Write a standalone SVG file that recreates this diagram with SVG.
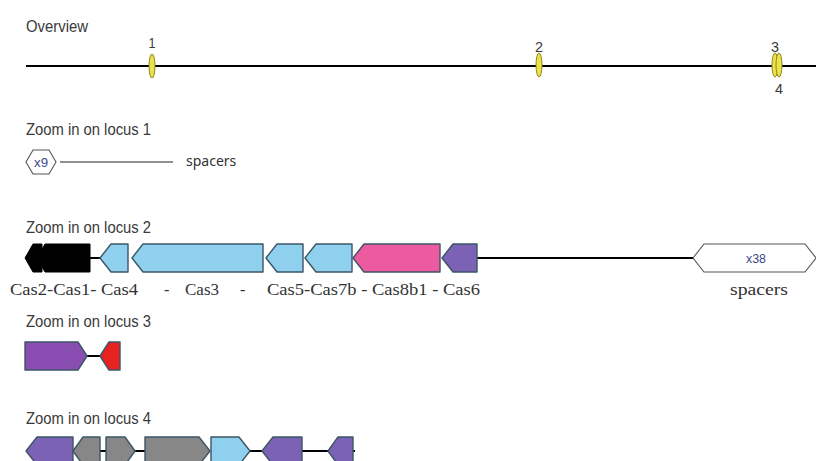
<svg xmlns="http://www.w3.org/2000/svg" width="816" height="461" viewBox="0 0 816 461">
  <style>
    .title { font-family: "Liberation Sans", Arial, sans-serif; font-size: 16px; fill: #3a3a3a; }
    .num { font-family: "Liberation Sans", Arial, sans-serif; font-size: 15px; fill: #3a3a3a; text-anchor: middle; }
    .lab { font-family: "Liberation Serif", "Times New Roman", serif; font-size: 16px; fill: #333; }
    .rep { font-family: "Liberation Sans", Arial, sans-serif; font-size: 13px; fill: #3b4a8c; text-anchor: middle; }
    .bb { stroke: #000; stroke-width: 2; fill: none; }
    .thin { stroke: #222; stroke-width: 1.2; fill: none; }
    .locus { fill: #ece24a; stroke: #8c8620; stroke-width: 1; }
    .g { stroke: #3d5566; stroke-width: 1.4; stroke-linejoin: round; }
    .blue { fill: #8fd0ee; }
    .pink { fill: #ec5aa0; }
    .purple { fill: #7b62b4; }
    .violet { fill: #8a4db2; }
    .red { fill: #e8231f; }
    .grey { fill: #878787; }
    .black { fill: #000; stroke: #000; }
    .hex { fill: #fff; stroke: #555; stroke-width: 1.1; }
  </style>

  <!-- Overview track -->
  <g id="overview">
    <text class="title" x="26" y="32" textLength="62" lengthAdjust="spacingAndGlyphs">Overview</text>
    <line class="bb" x1="26" y1="66" x2="816" y2="66"/>
    <g id="locus-1">
      <ellipse class="locus" cx="152" cy="66" rx="3" ry="12"/>
      <text class="num" x="152" y="48" textLength="7" lengthAdjust="spacingAndGlyphs">1</text>
    </g>
    <g id="locus-2">
      <ellipse class="locus" cx="539" cy="65" rx="3" ry="12"/>
      <text class="num" x="539" y="52" textLength="8" lengthAdjust="spacingAndGlyphs">2</text>
    </g>
    <g id="locus-3">
      <ellipse class="locus" cx="775" cy="65" rx="3" ry="12"/>
      <text class="num" x="775" y="52" textLength="8" lengthAdjust="spacingAndGlyphs">3</text>
    </g>
    <g id="locus-4">
      <ellipse class="locus" cx="779" cy="65" rx="3" ry="12"/>
      <text class="num" x="779" y="94" textLength="8" lengthAdjust="spacingAndGlyphs">4</text>
    </g>
  </g>

  <!-- Locus 1 -->
  <g id="zoom-locus-1">
    <text class="title" x="26" y="135" textLength="125" lengthAdjust="spacingAndGlyphs">Zoom in on locus 1</text>
    <g id="l1-repeats">
      <polygon class="hex" points="26,162 33,150 49,150 56,162 49,174 33,174"/>
      <text class="rep" x="41" y="167" textLength="14" lengthAdjust="spacingAndGlyphs">x9</text>
    </g>
    <line class="thin" x1="60" y1="162" x2="173" y2="162"/>
    <text x="186" y="166" style="font-family:'Noto Sans','DejaVu Sans',sans-serif;font-size:14px;fill:#333">spacers</text>
  </g>

  <!-- Locus 2 -->
  <g id="zoom-locus-2">
    <text class="title" x="26" y="233" textLength="125" lengthAdjust="spacingAndGlyphs">Zoom in on locus 2</text>
    <g id="l2-connectors">
      <line class="bb" x1="88" y1="258" x2="102" y2="258"/>
      <line class="bb" x1="476" y1="258" x2="694" y2="258"/>
    </g>
    <g id="cas2"><path class="black" d="M42,244 L33,244 L25,258 L33,272 L42,272 Z"/></g>
    <g id="cas1"><path class="black" d="M90,244 L45,244 L37,258 L45,272 L90,272 Z"/></g>
    <g id="cas4"><path class="g blue" d="M128,244 L111,244 L100,258 L111,272 L128,272 Z"/></g>
    <g id="cas3"><path class="g blue" d="M263,244 L143,244 L132,258 L143,272 L263,272 Z"/></g>
    <g id="cas5"><path class="g blue" d="M303,244 L277,244 L266,258 L277,272 L303,272 Z"/></g>
    <g id="cas7b"><path class="g blue" d="M352,244 L316,244 L305,258 L316,272 L352,272 Z"/></g>
    <g id="cas8b1"><path class="g pink" d="M440,244 L364,244 L353,258 L364,272 L440,272 Z"/></g>
    <g id="cas6"><path class="g purple" d="M477,244 L453,244 L442,258 L453,272 L477,272 Z"/></g>
    <g id="l2-repeats">
      <polygon class="hex" points="693,258 704,244 805,244 816,258 805,272 704,272"/>
      <text class="rep" x="756" y="263" textLength="20" lengthAdjust="spacingAndGlyphs">x38</text>
    </g>
    <text class="lab" x="10" y="295" textLength="128" lengthAdjust="spacingAndGlyphs">Cas2-Cas1- Cas4</text>
    <text class="lab" x="164" y="295">-</text>
    <text class="lab" x="185" y="295" textLength="34" lengthAdjust="spacingAndGlyphs">Cas3</text>
    <text class="lab" x="240" y="295">-</text>
    <text class="lab" x="267" y="295" textLength="213" lengthAdjust="spacingAndGlyphs">Cas5-Cas7b - Cas8b1 - Cas6</text>
    <text class="lab" x="730" y="295" textLength="58" lengthAdjust="spacingAndGlyphs">spacers</text>
  </g>

  <!-- Locus 3 -->
  <g id="zoom-locus-3">
    <text class="title" x="26" y="327" textLength="125" lengthAdjust="spacingAndGlyphs">Zoom in on locus 3</text>
    <line class="bb" x1="86" y1="356" x2="101" y2="356"/>
    <g id="l3-gene-a"><path class="g violet" d="M25,342 L78,342 L87,356 L78,370 L25,370 Z"/></g>
    <g id="l3-gene-b"><path class="g red" d="M120,342 L109,342 L100,356 L109,370 L120,370 Z"/></g>
  </g>

  <!-- Locus 4 -->
  <g id="zoom-locus-4">
    <text class="title" x="26" y="424" textLength="125" lengthAdjust="spacingAndGlyphs">Zoom in on locus 4</text>
    <g id="l4-connectors">
      <line class="bb" x1="99" y1="451" x2="107" y2="451"/>
      <line class="bb" x1="134" y1="451" x2="146" y2="451"/>
      <line class="bb" x1="249" y1="451" x2="264" y2="451"/>
      <line class="bb" x1="301" y1="451" x2="330" y2="451"/>
      <line class="bb" x1="352" y1="451" x2="355" y2="451"/>
    </g>
    <g id="l4-gene-1"><path class="g purple" d="M73,437 L37,437 L26,451 L37,465 L73,465 Z"/></g>
    <g id="l4-gene-2"><path class="g grey" d="M100,437 L83,437 L73,451 L83,465 L100,465 Z"/></g>
    <g id="l4-gene-3"><path class="g grey" d="M106,437 L125,437 L135,451 L125,465 L106,465 Z"/></g>
    <g id="l4-gene-4"><path class="g grey" d="M145,437 L199,437 L210,451 L199,465 L145,465 Z"/></g>
    <g id="l4-gene-5"><path class="g blue" d="M211,437 L239,437 L250,451 L239,465 L211,465 Z"/></g>
    <g id="l4-gene-6"><path class="g purple" d="M302,437 L273,437 L262,451 L273,465 L302,465 Z"/></g>
    <g id="l4-gene-7"><path class="g purple" d="M353,437 L338,437 L328,451 L338,465 L353,465 Z"/></g>
  </g>
</svg>
